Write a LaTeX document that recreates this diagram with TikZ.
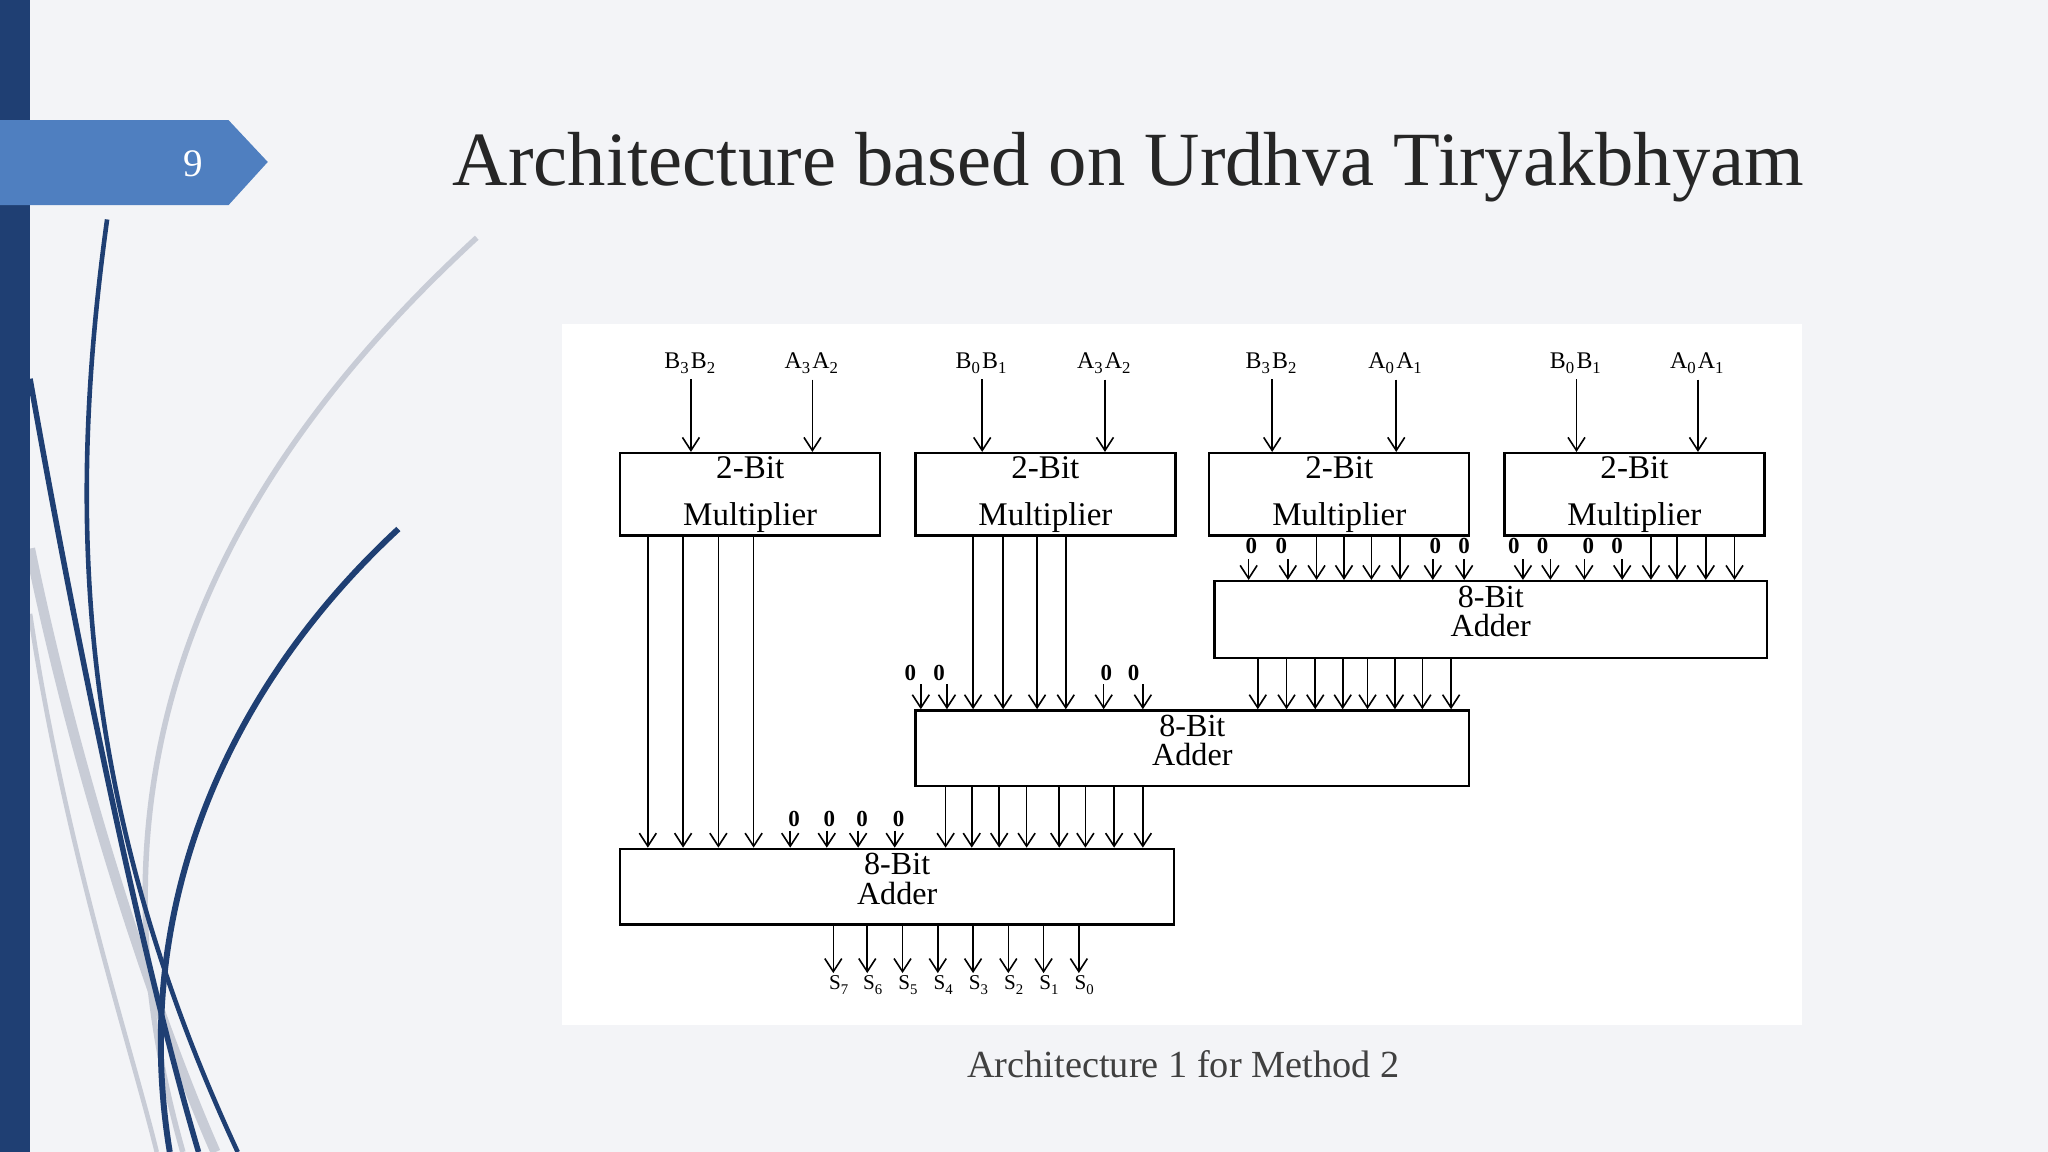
\documentclass[tikz,border=0pt]{standalone}
\usepackage{fontspec}
\setmainfont{Liberation Serif}
\usetikzlibrary{arrows.meta}
\definecolor{bg}{HTML}{F3F4F7}
\definecolor{dblue}{HTML}{1F3F73}
\definecolor{tabblue}{HTML}{4F7FC0}
\definecolor{curvegray}{HTML}{C8CCD6}
\newcommand{\mysub}[1]{\textsubscript{#1}}
\begin{document}
\begin{tikzpicture}[x=0.1mm,y=-0.1mm,
  arr/.style={line width=0.35pt,-{Straight Barb[length=1mm,width=1.3mm,line width=0.35pt]}},
  box/.style={draw,line width=0.5pt,anchor=north west,inner sep=0pt},
  mul/.style={box,minimum width=19.9mm,minimum height=6.3mm},
  txt/.style={font=\fontsize{7.2}{10.2}\selectfont,align=center,inner sep=0pt},
  atxt/.style={font=\fontsize{7}{6.4}\selectfont,align=center,inner sep=0pt},
  lab/.style={font=\fontsize{5.2}{5.2}\selectfont,inner sep=0pt},
  zero/.style={font=\bfseries\fontsize{5}{5}\selectfont,inner sep=0pt}]
\useasboundingbox (0,0) rectangle (1568,882);
\fill[bg] (0,0) rectangle (1568,882);
% decorative curves
\draw[curvegray,line width=1.2pt] (365,182) .. controls (150,380) and (60,600) .. (140,882);
\draw[curvegray,line width=2.2pt] (23,420) .. controls (60,600) and (120,780) .. (165,882);
\draw[curvegray,line width=1pt] (23,470) .. controls (50,650) and (100,800) .. (120,882);
\draw[dblue,line width=1pt] (82,168) .. controls (50,400) and (60,620) .. (182,882);
\draw[dblue,line width=1.3pt] (305,405) .. controls (170,530) and (100,700) .. (130,882);
\draw[dblue,line width=1.2pt] (23,290) .. controls (60,500) and (110,740) .. (152,882);
\fill[dblue] (0,0) rectangle (23,882);
\fill[tabblue] (0,92) -- (175,92) -- (205,124) -- (175,157) -- (0,157) -- cycle;
\node[text=white,font=\fontsize{8.5}{8.5}\selectfont] (num) at (148,125) {9};
\node[font=\fontsize{16.7}{16.7}\selectfont,text=black!85] (title) at (864,128) {Architecture based on Urdhva Tiryakbhyam};
\node[font=\fontsize{8.35}{8.35}\selectfont,text=black!75] (cap) at (906,815) {Architecture 1 for Method 2};
% panel
\fill[white] (430,248) rectangle (1380,785);
% multipliers
\node[mul] (m1) at (474,346) {};
\node[mul] (m2) at (700,346) {};
\node[mul] (m3) at (925,346) {};
\node[mul] (m4) at (1151,346) {};
\foreach \m in {m1,m2,m3,m4}{\node[txt] at ([yshift=-0.05mm]\m.center) {2-Bit\\Multiplier};}
% adders
\node[box,minimum width=42.3mm,minimum height=5.9mm] (aa) at (929,444) {};
\node[box,minimum width=42.4mm,minimum height=5.8mm] (ab) at (700,543) {};
\node[box,minimum width=42.4mm,minimum height=5.8mm] (ac) at (474,649) {};
\foreach \a in {aa,ab,ac}{\node[atxt] at ([yshift=0.6mm]\a.center) {8-Bit\\Adder};}
% inputs to multipliers
\foreach \x/\t/\m in {529/B\mysub{3}B\mysub{2}/m1,622/A\mysub{3}A\mysub{2}/m1,752/B\mysub{0}B\mysub{1}/m2,846/A\mysub{3}A\mysub{2}/m2,974/B\mysub{3}B\mysub{2}/m3,1069/A\mysub{0}A\mysub{1}/m3,1207/B\mysub{0}B\mysub{1}/m4,1300/A\mysub{0}A\mysub{1}/m4}{
  \node[lab] (i\x) at (\x,278) {\t};
  \draw[arr] (\x,0 |- i\x.south) ++(0,4) -- (\x,0 |- \m.north);}
% M1 -> adder C
\foreach \x in {496,523,550,577}{\draw[arr] (\x,0 |- m1.south) -- (\x,0 |- ac.north);}
% M2 -> adder B
\foreach \x in {745,768,794,816}{\draw[arr] (\x,0 |- m2.south) -- (\x,0 |- ab.north);}
% M3, M4 -> adder A
\foreach \x in {1008,1029,1050,1072}{\draw[arr] (\x,0 |- m3.south) -- (\x,0 |- aa.north);}
\foreach \x in {1264,1284,1306,1328}{\draw[arr] (\x,0 |- m4.south) -- (\x,0 |- aa.north);}
% zeros into adder A
\foreach \lx/\ax [count=\i] in {958/956,981/986,1099/1097,1121/1121,1159/1166,1181/1187,1216/1213,1238/1242}{
  \node[zero] (za\i) at (\lx,418) {0};
  \draw[arr] (\ax,428) -- (\ax,0 |- aa.north);}
% adder A -> adder B
\foreach \x in {963,985,1007,1028,1047,1068,1089,1111}{\draw[arr] (\x,0 |- aa.south) -- (\x,0 |- ab.north);}
% zeros into adder B
\foreach \lx/\ax [count=\i] in {697/705,719/725,847/845,868/875}{
  \node[zero] (zb\i) at (\lx,515) {0};
  \draw[arr] (\ax,524) -- (\ax,0 |- ab.north);}
% adder B -> adder C
\foreach \x in {724,744,765,786,811,831,853,875}{\draw[arr] (\x,0 |- ab.south) -- (\x,0 |- ac.north);}
% zeros into adder C
\foreach \lx/\ax [count=\i] in {608/605,635/633,660/657,688/685}{
  \node[zero] (zc\i) at (\lx,627) {0};
  \draw[arr] (\ax,636) -- (\ax,0 |- ac.north);}
% outputs
\foreach \x/\t in {638/7,664/6,691/5,718/4,745/3,772/2,799/1,826/0}{
  \coordinate (s\t) at (\x,745);
  \draw[arr] (\x,0 |- ac.south) -- (s\t);
  \node[lab,font=\fontsize{4.6}{4.6}\selectfont] at (\x+5,754) {S\mysub{\t}};}
\end{tikzpicture}
\end{document}
